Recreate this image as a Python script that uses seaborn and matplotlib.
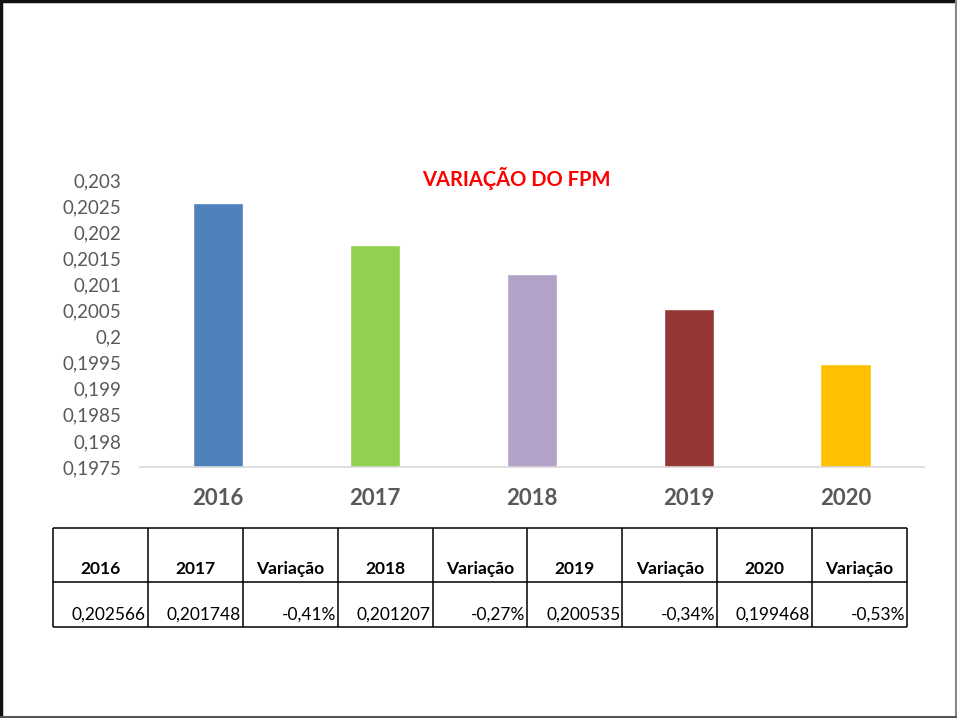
import matplotlib
matplotlib.use("Agg")
import matplotlib.pyplot as plt
import seaborn as sns
import pandas as pd
from matplotlib.ticker import MultipleLocator, FuncFormatter
from matplotlib.lines import Line2D

# values
years = ["2016", "2017", "2018", "2019", "2020"]
fpm = [0.202566, 0.201748, 0.201207, 0.200535, 0.199468]
bar_colors = ["#4F81BD", "#92D050", "#B3A2C7", "#953735", "#FFC000"]

table_header = ["2016", "2017", "Variação", "2018", "Variação", "2019", "Variação", "2020", "Variação"]
table_values = ["0,202566", "0,201748", "-0,41%", "0,201207", "-0,27%", "0,200535", "-0,34%", "0,199468", "-0,53%"]

sns.set_theme(style="white")
plt.rcParams["font.family"] = ["Lato", "DejaVu Sans"]

GRAY = "#595959"

fig = plt.figure(figsize=(9.57, 7.18), dpi=100)
fig.patch.set_facecolor("white")

# slide border: dark on top/left, grey on right/bottom
tf = fig.transFigure
fig.lines.append(Line2D([0, 1], [0.998, 0.998], transform=tf, color="#111111", linewidth=2.5))
fig.lines.append(Line2D([0.001, 0.001], [0, 1], transform=tf, color="#111111", linewidth=2.5))
fig.lines.append(Line2D([0.999, 0.999], [0, 1], transform=tf, color="#888888", linewidth=1.5))
fig.lines.append(Line2D([0, 1], [0.002, 0.002], transform=tf, color="#555555", linewidth=1.5))

ax = fig.add_axes([0.1458, 0.3496, 0.8197, 0.3997])
df = pd.DataFrame({"ano": years, "fpm": fpm})
sns.barplot(data=df, x="ano", y="fpm", hue="ano", palette=bar_colors,
            width=0.32, legend=False, ax=ax, saturation=1)

ax.set_ylim(0.1975, 0.203)
ax.set_xlim(-0.5, 4.5)
ax.yaxis.set_major_locator(MultipleLocator(0.0005))
ax.yaxis.set_major_formatter(FuncFormatter(
    lambda v, _: (f"{v:.4f}".rstrip("0").rstrip(".")).replace(".", ",")))
ax.set_xlabel("")
ax.set_ylabel("")
for s in ["top", "right", "left"]:
    ax.spines[s].set_visible(False)
ax.spines["bottom"].set_color("#D9D9D9")
ax.spines["bottom"].set_linewidth(1.2)
ax.tick_params(axis="y", length=0, pad=13, labelsize=13.5, labelcolor=GRAY)
ax.tick_params(axis="x", length=0, pad=15, labelsize=16, labelcolor=GRAY)
for lab in ax.get_xticklabels():
    lab.set_fontweight("bold")

fig.text(516 / 957, 1 - 178 / 718, "VARIAÇÃO DO FPM", color="#FF0000",
         fontsize=14.5, fontweight="bold", ha="center", va="center")

# data table under the chart
tx0, tx1 = 53 / 957, 907 / 957
ty0, ty1 = 1 - 627 / 718, 1 - 528 / 718
tab = fig.add_axes([tx0, ty0, tx1 - tx0, ty1 - ty0])
ncol = len(table_header)
tab.set_xlim(0, ncol)
tab.set_ylim(0, 99)
tab.axis("off")
tab.hlines([0, 45, 99], 0, ncol, color="black", linewidth=1.1, clip_on=False)
tab.vlines(range(ncol + 1), 0, 99, color="black", linewidth=1.1, clip_on=False)
for i, (h, v) in enumerate(zip(table_header, table_values)):
    tab.text(i + 0.5, 53, h, ha="center", va="baseline", fontsize=12.5,
             fontweight="bold", color="black")
    tab.text(i + 0.98, 7, v, ha="right", va="baseline", fontsize=12.5, color="black")

fig.savefig("out.png", dpi=100, facecolor="white")
